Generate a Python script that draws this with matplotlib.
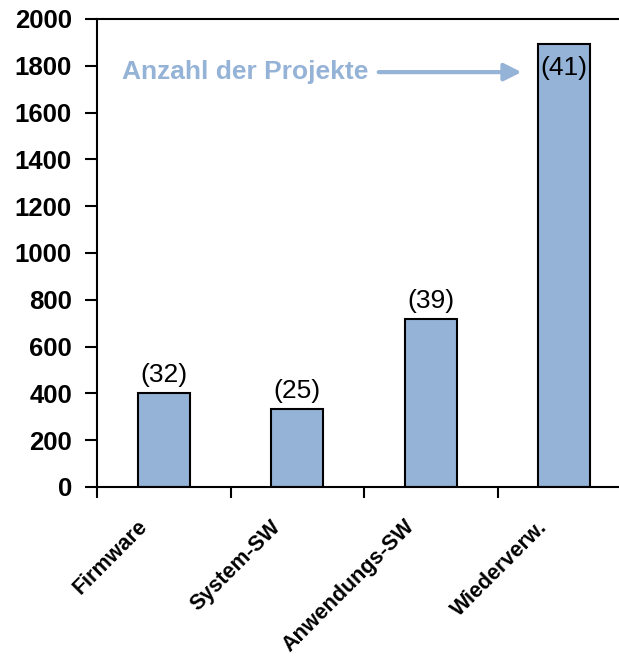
import matplotlib.pyplot as plt
import matplotlib.transforms as mtransforms
import numpy as np

# Daten
kategorien = ['Firmware', 'System-SW', 'Anwendungs-SW', 'Wiederverw.']
werte = [402, 335, 718, 1895]
projekte = ['(32)', '(25)', '(39)', '(41)']
y_ticks = [0, 200, 400, 600, 800, 1000, 1200, 1400, 1600, 1800, 2000]

plt.rcParams['font.family'] = ['Liberation Sans', 'DejaVu Sans']

fig = plt.figure(figsize=(6.19, 6.57), dpi=100)
# rechte Kante liegt absichtlich knapp ausserhalb des Bildes
ax = fig.add_axes([97 / 619, 170 / 657, 530 / 619, 468 / 657])

x = np.arange(len(kategorien))
ax.bar(x, werte, width=0.39, color='#95b3d7', edgecolor='black', linewidth=1.5)

# Projektanzahl ueber bzw. im Balken
for i, (w, p) in enumerate(zip(werte, projekte)):
    if i == 3:
        ax.text(i, 1790, p, ha='center', va='center', fontsize=19)
    else:
        ax.text(i, w + 25, p, ha='center', va='bottom', fontsize=19)

ax.annotate('', xy=(2.68, 1773), xytext=(1.61, 1773),
            arrowprops=dict(arrowstyle='-|>', color='#95b3d7', lw=3,
                            mutation_scale=26, shrinkA=0, shrinkB=0))
ax.text(-0.31, 1773, 'Anzahl der Projekte', color='#95b3d7', fontsize=19,
        fontweight='bold', ha='left', va='center')

ax.set_xlim(-0.5, 3.47)
ax.set_ylim(0, 2000)
ax.set_yticks(y_ticks)
ax.set_yticklabels([str(t) for t in y_ticks], fontsize=18.5, fontweight='bold')
ax.tick_params(axis='y', length=9, width=1.5, direction='out', pad=9)

ax.set_xticks(x)
ax.set_xticklabels(kategorien, rotation=45, ha='right', rotation_mode='anchor',
                   fontsize=15.5, fontweight='bold')
ax.tick_params(axis='x', which='major', length=0, pad=21)
versatz = mtransforms.ScaledTranslation(-27 / 100, 0, fig.dpi_scale_trans)
for lbl in ax.get_xticklabels():
    lbl.set_transform(lbl.get_transform() + versatz)
ax.set_xticks(np.arange(-0.5, 3.5, 1), minor=True)
ax.tick_params(axis='x', which='minor', length=8, width=1.5, direction='out')

for s in ['left', 'bottom', 'top']:
    ax.spines[s].set_linewidth(1.5)
ax.spines['right'].set_visible(False)

fig.savefig('out.png', dpi=100)
